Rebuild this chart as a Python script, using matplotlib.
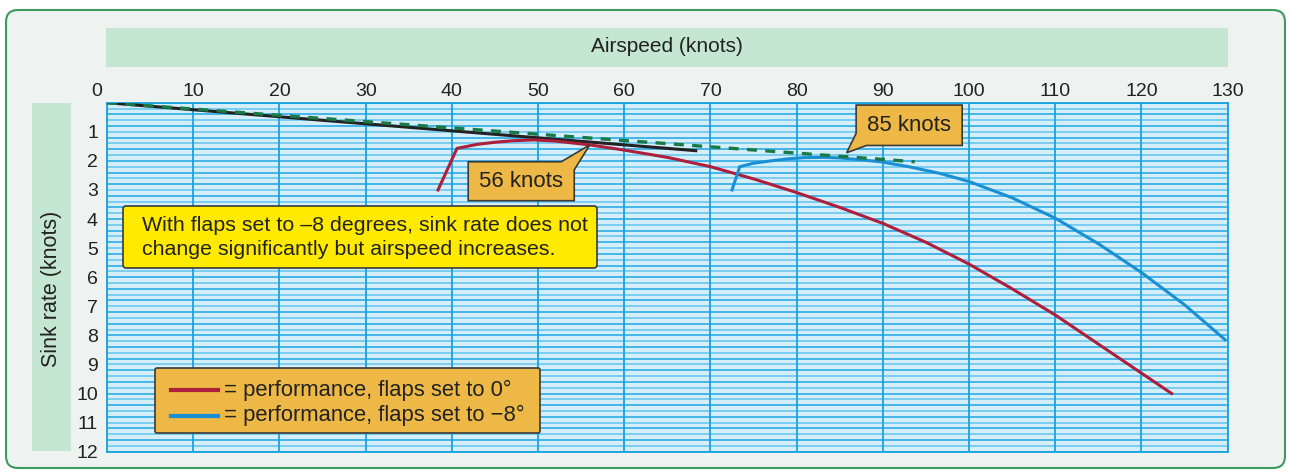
# sink rate vs airspeed polar, flaps 0 and -8 degrees

import matplotlib.pyplot as plt
from matplotlib.patches import FancyBboxPatch, Polygon
from matplotlib.lines import Line2D
from matplotlib.transforms import IdentityTransform, ScaledTranslation
import numpy as np

# flaps 0 deg performance curve (knots, sink knots)
red_speed = [38.4, 40.6, 43, 45, 47, 49.5, 52, 56, 60, 65, 70, 75, 80, 85, 90,
             95, 100, 105, 110, 115, 120, 123.5]
red_sink = [3.0, 1.57, 1.43, 1.36, 1.31, 1.28, 1.32, 1.45, 1.63, 1.88, 2.2, 2.62,
            3.09, 3.6, 4.15, 4.8, 5.55, 6.4, 7.3, 8.3, 9.3, 10.0]

# flaps -8 deg performance curve
blue_speed = [72.5, 73.4, 75, 77, 79, 80.8, 83, 85, 87, 89.7, 93, 96.6, 100,
              105, 110, 115, 120, 125, 129.7]
blue_sink = [3.0, 2.2, 2.08, 2.0, 1.93, 1.89, 1.88, 1.9, 1.95, 2.03, 2.2, 2.43,
             2.71, 3.27, 3.97, 4.85, 5.84, 6.95, 8.15]

# tangent lines from origin
black_speed = [0, 68.3]
black_sink = [0, 1.65]
green_speed = [0, 93.7]
green_sink = [0, 2.03]

# best glide points
best_glide = [(56, 1.45), (85.8, 1.72)]

x_ticks = list(range(0, 140, 10))
y_ticks = list(range(1, 13))

legend_labels = ['= performance, flaps set to 0°', '= performance, flaps set to \u22128°']
legend_colors = ['#ad1f3a', '#1a8fd3']

W, H = 1291, 472
fig = plt.figure(figsize=(W / 100, H / 100), dpi=100)
fig.patch.set_facecolor('white')
plt.rcParams['font.family'] = ['Liberation Sans', 'DejaVu Sans']

def fx(x):
    return x / W

def fy(y):
    return 1 - y / H

# outer frame
frame = FancyBboxPatch((6, H - 468), 1279, 458, boxstyle="round,pad=0,rounding_size=12",
                       transform=IdentityTransform(), facecolor='#eef3f1',
                       edgecolor='#3d9a5f', linewidth=1.5, zorder=-2)
fig.patches.append(frame)

# label boxes
fig.patches.append(plt.Rectangle((106, H - 67), 1122, 39, transform=IdentityTransform(),
                                 facecolor='#c5e6d0', edgecolor='none', zorder=-1))
fig.patches.append(plt.Rectangle((32, H - 450.7), 39, 347.4, transform=IdentityTransform(),
                                 facecolor='#c5e6d0', edgecolor='none', zorder=-1))
fig.text(fx(667), fy(47), 'Airspeed (knots)', ha='center', va='center', fontsize=15, color='#222')
fig.text(fx(51.5), fy(289), 'Sink rate (knots)', ha='center', va='center', fontsize=15.5,
         color='#222', rotation=90)

ax = fig.add_axes([fx(107), fy(451.7), fx(1227.7) - fx(107), fy(102.7) - fy(451.7)])
ax.set_facecolor('#d4eefa')
ax.set_xlim(0, 130)
ax.set_ylim(12, 0)

# fine horizontal grid
for i, v in enumerate(np.arange(0, 12.01, 0.2)):
    ax.axhline(v, color='#1ea6e3' if i % 2 == 0 else '#62c4ee', lw=1.1, zorder=1)
for v in x_ticks:
    ax.axvline(v, color='#1aa2e0', lw=1.3, zorder=1)

ax.plot(black_speed, black_sink, color='#222222', lw=2.2, zorder=3)
ax.plot(green_speed, green_sink, color='#1a7a47', lw=2.4, ls=(0, (3, 2.5)), zorder=4)
ax.plot(red_speed, red_sink, color=legend_colors[0], lw=2.2, zorder=3)
ax.plot(blue_speed, blue_sink, color=legend_colors[1], lw=2.2, zorder=3)

ax.xaxis.tick_top()
ax.set_xticks(x_ticks)
ax.set_yticks(y_ticks)
ax.tick_params(length=0, labelsize=14, colors='#222')
ax.tick_params(axis='x', pad=2)
ax.tick_params(axis='y', pad=6.5)
for s in ax.spines.values():
    s.set_color('#1aa2e0')
    s.set_linewidth(1.3)

# nudge the "0" label away from the y axis
zero_lab = ax.xaxis.get_majorticklabels()[0]
zero_lab.set_transform(zero_lab.get_transform() + ScaledTranslation(-10 / 100, 0, fig.dpi_scale_trans))

# callouts
(t1x, t1y), (t2x, t2y) = best_glide
c1 = Polygon([(41.9, 2.03), (52.7, 2.03), (t1x, t1y), (54.2, 2.31), (54.2, 3.37), (41.9, 3.37)],
             closed=True, facecolor='#edb846', edgecolor='#3a3a3a', lw=1.2, zorder=6)
ax.add_patch(c1)
ax.text(48.05, 2.72, '56 knots', ha='center', va='center', fontsize=16, color='#222', zorder=7)
c2 = Polygon([(86.9, 0.08), (99.2, 0.08), (99.2, 1.47), (88.1, 1.47), (t2x, t2y), (86.9, 1.05)],
             closed=True, facecolor='#edb846', edgecolor='#3a3a3a', lw=1.2, zorder=6)
ax.add_patch(c2)
ax.text(93.05, 0.78, '85 knots', ha='center', va='center', fontsize=16, color='#222', zorder=7)

# note box
note = FancyBboxPatch((123, H - 268), 474, 62, boxstyle="round,pad=0,rounding_size=3",
                      transform=IdentityTransform(), facecolor='#ffea00',
                      edgecolor='#3a3a3a', linewidth=1.2, zorder=10)
fig.patches.append(note)
fig.text(fx(142), fy(237.5), 'With flaps set to \u20138 degrees, sink rate does not\n'
         'change significantly but airspeed increases.', ha='left', va='center',
         fontsize=15.4, color='#222', linespacing=1.3, zorder=11)

# legend box, drawn by hand to match the padding
leg_box = FancyBboxPatch((155, H - 433), 385, 65, boxstyle="round,pad=0,rounding_size=2",
                         transform=IdentityTransform(), facecolor='#edb846',
                         edgecolor='#3a3a3a', linewidth=1.2, zorder=10)
fig.patches.append(leg_box)
for row, (lab, col) in enumerate(zip(legend_labels, legend_colors)):
    yy = 390 + row * 25.7
    fig.add_artist(Line2D([fx(171), fx(218)], [fy(yy), fy(yy)], color=col, lw=3, zorder=11))
    fig.text(fx(224), fy(yy), lab, ha='left', va='center', fontsize=15.8, color='#222', zorder=11)

fig.savefig('out.png', dpi=100)
